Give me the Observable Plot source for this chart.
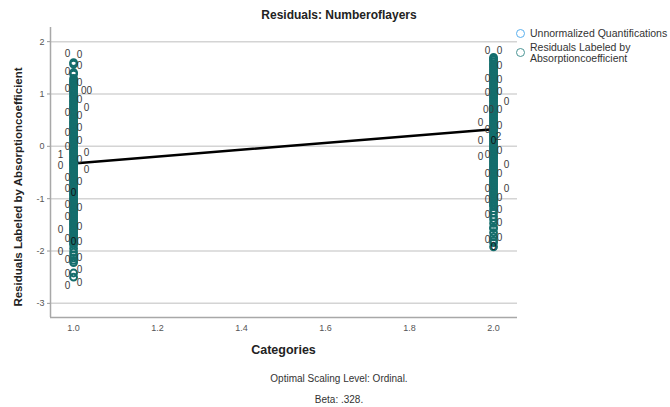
<!DOCTYPE html>
<html>
<head>
<meta charset="utf-8">
<script src="https://cdn.jsdelivr.net/npm/d3@7"></script>
<script src="https://cdn.jsdelivr.net/npm/@observablehq/plot@0.6"></script>
<style>
  html, body { margin: 0; padding: 0; background: #fff; }
  #wrap { position: relative; width: 670px; height: 407px; font-family: "Liberation Sans", Arial, sans-serif; color: #222; }
  #wrap svg { position: absolute; left: 0; top: 0; }
  .t { position: absolute; white-space: nowrap; }
  .title { left: 0; width: 678px; top: 8px; text-align: center; font-weight: bold; font-size: 12px; }
  .xlab { left: 50px; width: 467px; top: 343px; text-align: center; font-weight: bold; font-size: 12.5px; }
  .cap { left: 0; width: 678px; text-align: center; font-size: 10px; color: #333; }
  .ylab { left: 18px; top: 187px; transform: translate(-50%, -50%) rotate(-90deg); font-weight: bold; font-size: 11.5px; }
  .leg { font-size: 10.5px; color: #333; line-height: 11px; }
  .circ { position: absolute; width: 9px; height: 9px; border-radius: 50%; box-sizing: border-box; }
</style>
</head>
<body>
<div id="wrap"></div>
<script>
// ---------- data ----------
const categories = [1, 2];
const xTicks = [1.0, 1.2, 1.4, 1.6, 1.8, 2.0];
const yTicks = [-3, -2, -1, 0, 1, 2];
const beta = 0.328;

// residuals labeled by absorption coefficient, category 1
const residCat1 = [1.60, 1.57, 1.41, 1.38, 1.30,
  1.26, 1.24, 1.21, 1.19, 1.15, 1.13, 1.10, 1.06, 1.04, 1.01, 0.97, 0.95, 0.92, 0.88, 0.86, 0.83, 0.80, 0.77, 0.74, 0.72,
  0.68, 0.65, 0.63, 0.60, 0.56, 0.54, 0.51, 0.47, 0.45, 0.42, 0.39, 0.36, 0.33, 0.31, 0.27, 0.25, 0.22, 0.18, 0.16, 0.13,
  0.10, 0.07, 0.04, 0.01, -0.02, -0.05, -0.07, -0.11, -0.13, -0.16, -0.19, -0.22, -0.25, -0.28, -0.30, -0.34, -0.36, -0.39,
  -0.42, -0.45, -0.48, -0.51, -0.54, -0.57, -0.59, -0.63, -0.65, -0.68, -0.71, -0.74, -0.77, -0.80, -0.83, -0.86, -0.89,
  -0.92, -0.94, -0.98, -1.00, -1.03, -1.06, -1.09, -1.12, -1.15, -1.18, -1.21, -1.23, -1.27, -1.29, -1.32, -1.35, -1.38,
  -1.41, -1.44, -1.47, -1.50, -1.52, -1.56, -1.58, -1.61, -1.64, -1.67, -1.70, -1.73, -1.76, -1.79, -1.82, -1.85, -1.88,
  -1.95, -2.02, -2.08, -2.13, -2.18, -2.22, -2.42, -2.50];

// category 2
const residCat2 = [1.70, 1.67, 1.65, 1.62, 1.58, 1.56, 1.53, 1.50, 1.47, 1.44, 1.41, 1.38, 1.36, 1.32, 1.30, 1.27, 1.24,
  1.21, 1.18, 1.15, 1.12, 1.09, 1.06, 1.03, 1.00, 0.97, 0.94, 0.92, 0.88, 0.86, 0.83, 0.79, 0.77, 0.74, 0.71, 0.68, 0.65,
  0.62, 0.59, 0.56, 0.53, 0.50, 0.47, 0.45, 0.41, 0.39, 0.36, 0.33, 0.30, 0.27, 0.24, 0.21, 0.18, 0.15, 0.12, 0.09, 0.06,
  0.03, 0.00, -0.03, -0.05, -0.09, -0.11, -0.14, -0.17, -0.20, -0.23, -0.26, -0.29, -0.32, -0.35, -0.38, -0.41, -0.44,
  -0.46, -0.50, -0.52, -0.55, -0.58, -0.61, -0.64, -0.67, -0.70, -0.73, -0.76, -0.79, -0.82, -0.85, -0.88, -0.91, -0.94,
  -0.97, -1.00, -1.03, -1.06, -1.09, -1.12, -1.15,
  -1.21, -1.27, -1.34, -1.40, -1.47, -1.55, -1.57, -1.65, -1.73, -1.80, -1.84, -1.92];

// unnormalized quantifications
const unnormValues = [-0.328, 0.328];

// point labels ("0"), grouped by where they sit around each column
const cat1FarLeft = [-0.38, -1.60, -2.01];
const cat1Left = [1.77, 1.42, 1.10, 0.65, 0.25, -0.01, -0.60, -0.81, -1.12, -1.35, -1.77, -2.17, -2.44, -2.67];
const cat1Inside = [-0.89, -1.82];
const cat1Right = [1.75, 1.54, 1.22, 0.88, 0.59, 0.35, 0.11, -0.25, -0.68, -1.18, -1.54, -1.82, -2.13, -2.36, -2.60];
const cat1FarRight = [0.74, -0.13, -0.44];

const cat2FarLeft = [0.44, 0.11, -0.20];
const cat2Left = [1.83, 1.29, 1.03, 0.32, -0.17, -0.52, -0.81, -1.02, -1.31, -1.78];
const cat2Inside = [0.11, -1.92];
const cat2Right = [1.82, 1.54, 1.28, 1.05, 0.70, 0.40, -0.09, -0.53, -0.98, -1.22, -1.47, -1.74];
const cat2FarRight = [0.86, -0.35, -0.81];

// labels with other text
const specialCats = [1, 1, 2, 2];
const specialValues = [-0.17, 1.07, 0.18, 0.69];
const specialTexts = ["1", "00", "2", "00"];
const specialCols = ["farLeft", "farRight", "nearRight", "nearLeft"];

// ---------- build ----------
const teal = "#146d6c";
const points = [
  ...residCat1.map(v => ({cat: categories[0], v})),
  ...residCat2.map(v => ({cat: categories[1], v}))
];
const unnorm = categories.map((c, i) => ({cat: c, v: unnormValues[i]}));
const regLine = categories.map((c, i) => ({cat: c, v: i === 0 ? -beta : beta}));

const colOffset = {farLeft: -13, left: -6, nearLeft: -5, inside: 0, nearRight: 5, right: 6, farRight: 13};
const groups = [
  [categories[0], cat1FarLeft, "farLeft"], [categories[0], cat1Left, "left"], [categories[0], cat1Inside, "inside"],
  [categories[0], cat1Right, "right"], [categories[0], cat1FarRight, "farRight"],
  [categories[1], cat2FarLeft, "farLeft"], [categories[1], cat2Left, "left"], [categories[1], cat2Inside, "inside"],
  [categories[1], cat2Right, "right"], [categories[1], cat2FarRight, "farRight"]
];
const labelMarks = groups.map(([c, arr, col]) =>
  Plot.text(arr.map(v => ({cat: c, v, t: "0"})), {
    x: "cat", y: "v", text: "t", dx: colOffset[col],
    fill: col === "inside" ? "#111" : "#3a3a3a", fontSize: 10, fontFamily: "Liberation Sans, Arial, sans-serif"
  })
);
specialCats.forEach((c, i) => {
  labelMarks.push(Plot.text([{cat: c, v: specialValues[i], t: specialTexts[i]}], {
    x: "cat", y: "v", text: "t", dx: colOffset[specialCols[i]],
    fill: "#3a3a3a", fontSize: 10, fontFamily: "Liberation Sans, Arial, sans-serif"
  }));
});

const xDomain = [0.945, 2.057];
const yDomain = [-3.27, 2.27];

const chart = Plot.plot({
  width: 670, height: 407,
  marginLeft: 50, marginRight: 153, marginTop: 27, marginBottom: 90,
  style: {fontFamily: "Liberation Sans, Arial, sans-serif", background: "transparent"},
  x: {domain: xDomain, label: null},
  y: {domain: yDomain, label: null},
  marks: [
    Plot.gridY(yTicks, {stroke: "#d4d4d4", strokeOpacity: 1, strokeWidth: 1.5}),
    Plot.ruleX([xDomain[0]], {stroke: "#a8a8a8", strokeWidth: 1.5}),
    Plot.ruleY([yDomain[0]], {stroke: "#a8a8a8", strokeWidth: 1.5}),
    Plot.axisY(yTicks, {tickSize: 3, tickPadding: 3, fontSize: 9, fill: "#555", stroke: "#999", label: null, tickFormat: d => d3.format("d")(d).replace("−", "-")}),
    Plot.axisX(xTicks, {tickSize: 0, tickPadding: 7, fontSize: 9, fill: "#555", label: null, tickFormat: d3.format(".1f")}),
    Plot.line(regLine, {x: "cat", y: "v", stroke: "#000", strokeWidth: 2.5}),
    Plot.dot(unnorm, {x: "cat", y: "v", r: 4, stroke: "#5ab0ee", strokeWidth: 1.3}),
    Plot.dot(points, {x: "cat", y: "v", r: 3.4, stroke: teal, strokeWidth: 2, fill: "none"}),
    ...labelMarks
  ]
});

const wrap = document.getElementById("wrap");
wrap.appendChild(chart);
wrap.insertAdjacentHTML("beforeend", `
  <div class="t title">Residuals: Numberoflayers</div>
  <div class="t ylab">Residuals Labeled by Absorptioncoefficient</div>
  <div class="t xlab">Categories</div>
  <div class="t cap" style="top:373px">Optimal Scaling Level: Ordinal.</div>
  <div class="t cap" style="top:394px">Beta: .328.</div>
  <div class="circ" style="left:516px;top:29px;border:1.5px solid #5ab0ee"></div>
  <div class="t leg" style="left:530px;top:28px">Unnormalized Quantifications</div>
  <div class="circ" style="left:516px;top:48px;border:1.5px solid #4a9494"></div>
  <div class="t leg" style="left:530px;top:42px">Residuals Labeled by<br>Absorptioncoefficient</div>
`);
</script>
</body>
</html>
